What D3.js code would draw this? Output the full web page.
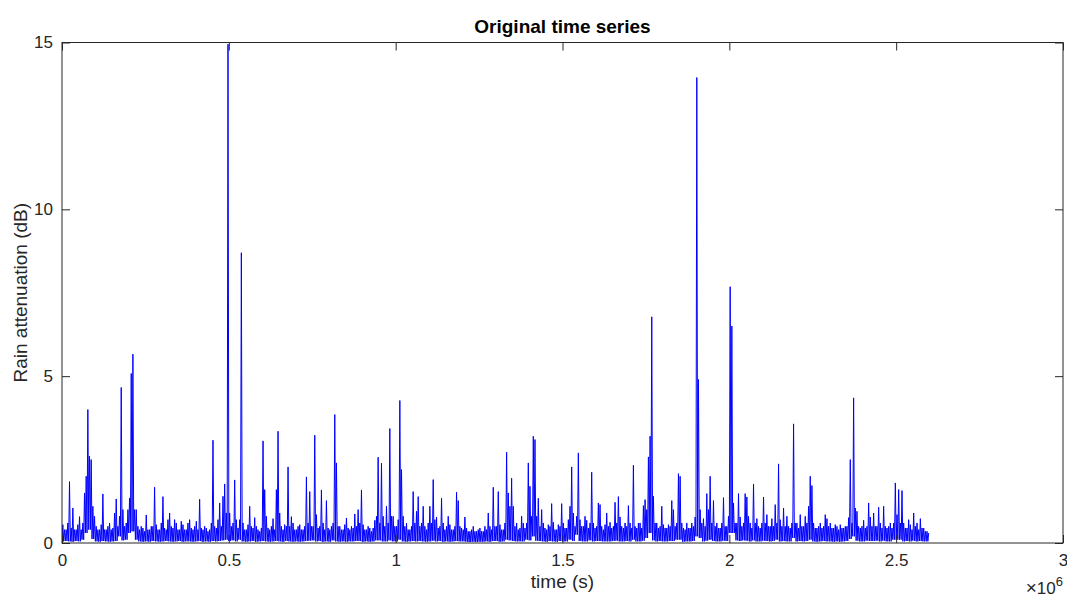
<!DOCTYPE html>
<html>
<head>
<meta charset="utf-8">
<script src="https://cdn.jsdelivr.net/npm/d3@7/dist/d3.min.js"></script>
<style>
  html, body { margin: 0; padding: 0; background: #ffffff; }
  svg { display: block; font-family: "Liberation Sans", Arial, Helvetica, sans-serif; }
</style>
</head>
<body>
<svg id="chart" width="1067" height="598"></svg>
<script>
// Rain attenuation record, summarised in 5 000 s slots for the peaks
// and 10 000 s slots for the floor of the signal.
const peakSlotSeconds = 5000;
const floorSlotSeconds = 10000;

// Highest attenuation reached in each 5 000 s slot (dB)
const slotPeak = [
  0.55, 0.4, 0.4, 0.6, 1.84, 0.45, 1.05, 0.4, 0.4, 0.55, 0.79, 0.4, 0.6, 1.5, 2.0, 4.0, 2.6, 2.5, 1.1, 0.8,
  0.5, 0.4, 0.4, 0.55, 1.47, 0.4, 0.4, 0.5, 0.6, 0.4, 0.45, 0.9, 1.32, 0.5, 0.8, 4.66, 1.0, 0.5, 0.6, 1.0,
  1.35, 5.08, 5.66, 1.0, 1.0, 0.5, 0.4, 0.5, 0.45, 0.35, 0.84, 0.4, 0.4, 0.5, 0.5, 1.67, 0.55, 0.4, 0.4, 0.6,
  1.39, 0.45, 0.4, 0.7, 0.9, 0.5, 0.45, 0.7, 0.6, 0.4, 0.4, 0.65, 0.55, 0.4, 0.4, 0.6, 0.7, 0.45, 0.4, 0.5,
  0.65, 0.4, 1.31, 0.45, 0.4, 0.5, 0.45, 0.35, 0.4, 0.6, 3.08, 0.5, 0.45, 0.7, 1.2, 0.5, 1.4, 1.77, 0.9, 14.95,
  0.9, 0.5, 0.6, 1.89, 0.7, 0.45, 0.7, 8.7, 0.6, 0.4, 0.4, 0.55, 1.1, 0.5, 0.45, 0.76, 0.5, 0.4, 0.35, 0.45,
  3.06, 1.6, 0.8, 0.45, 0.4, 0.5, 0.73, 0.4, 1.6, 3.35, 0.9, 0.5, 0.4, 0.55, 0.5, 2.28, 0.5, 0.79, 0.6, 0.4,
  0.4, 0.5, 0.55, 0.4, 0.4, 0.5, 1.98, 0.6, 1.54, 0.5, 0.5, 3.23, 0.85, 0.45, 0.5, 1.59, 0.6, 0.4, 1.27, 0.45,
  0.4, 0.5, 0.6, 3.85, 2.4, 0.5, 0.5, 0.4, 0.4, 0.55, 0.75, 0.45, 0.4, 0.5, 0.45, 0.87, 0.5, 1.0, 0.6, 1.59,
  0.55, 0.4, 0.4, 0.5, 0.45, 0.35, 0.45, 0.68, 0.8, 2.57, 0.6, 2.39, 0.8, 0.5, 1.1, 0.6, 3.43, 0.8, 0.8, 0.5,
  0.5, 0.7, 4.27, 2.2, 0.8, 0.5, 0.6, 0.4, 0.4, 0.5, 1.54, 0.6, 0.95, 1.39, 0.5, 0.6, 1.1, 0.5, 0.4, 0.6,
  1.1, 0.6, 1.9, 0.7, 0.78, 0.45, 0.5, 1.34, 0.6, 0.4, 0.5, 0.8, 0.55, 0.4, 0.4, 0.5, 1.52, 1.27, 0.5, 0.45,
  0.4, 0.78, 0.45, 0.35, 0.35, 0.4, 0.5, 0.35, 0.35, 0.4, 0.45, 0.35, 0.35, 0.5, 0.4, 0.9, 0.5, 0.4, 1.67, 0.5,
  0.5, 1.54, 0.55, 0.4, 0.4, 0.6, 2.72, 1.5, 1.1, 1.94, 1.1, 0.5, 0.6, 0.4, 0.45, 0.8, 0.6, 0.45, 0.6, 2.4,
  1.7, 0.8, 3.2, 3.1, 0.8, 1.34, 0.5, 1.0, 0.6, 0.45, 0.4, 0.55, 0.5, 1.18, 0.62, 0.4, 0.4, 0.55, 0.5, 1.18,
  0.6, 0.45, 0.45, 0.7, 1.1, 2.28, 0.9, 0.5, 0.8, 2.7, 0.7, 0.5, 0.5, 0.8, 0.68, 0.45, 0.6, 2.12, 0.6, 0.45,
  0.5, 1.2, 1.15, 0.5, 0.4, 0.55, 0.9, 0.5, 0.62, 0.45, 0.5, 1.22, 0.6, 1.39, 0.78, 0.5, 0.45, 0.6, 0.5, 1.12,
  0.6, 0.45, 2.33, 0.5, 0.45, 0.6, 0.6, 0.45, 1.12, 1.3, 1.0, 2.58, 3.2, 6.78, 1.4, 0.6, 0.6, 0.45, 0.5, 1.1,
  0.55, 0.45, 0.45, 0.55, 0.5, 1.27, 1.0, 0.5, 0.6, 2.08, 2.0, 0.6, 0.45, 0.4, 0.6, 0.45, 0.45, 0.6, 0.5, 0.78,
  13.95, 4.9, 1.0, 0.6, 0.73, 0.5, 1.48, 1.0, 2.0, 0.6, 1.27, 0.5, 0.6, 0.45, 0.45, 0.6, 1.36, 0.5, 0.5, 0.8,
  7.68, 6.5, 1.2, 0.6, 0.6, 1.48, 0.78, 0.5, 0.6, 1.48, 1.38, 0.8, 0.6, 0.45, 1.77, 0.6, 0.73, 0.5, 0.45, 0.6,
  1.38, 0.6, 0.85, 0.5, 0.5, 0.73, 0.5, 1.15, 0.6, 2.37, 0.7, 0.5, 1.05, 0.5, 0.8, 0.5, 0.45, 0.6, 3.57, 0.6,
  0.6, 0.45, 0.85, 0.5, 0.5, 0.8, 0.6, 1.1, 2.0, 1.72, 0.6, 0.45, 0.45, 0.5, 0.6, 0.45, 0.5, 0.85, 0.73, 0.5,
  0.6, 0.45, 0.45, 0.55, 0.5, 0.4, 0.55, 0.45, 0.45, 0.5, 0.5, 0.76, 2.5, 0.6, 4.35, 1.05, 0.95, 0.5, 0.45, 0.5,
  0.68, 0.45, 0.5, 1.2, 0.78, 0.5, 0.9, 0.5, 0.5, 1.07, 0.6, 0.45, 1.1, 0.5, 0.45, 0.5, 0.6, 0.45, 0.6, 1.8,
  0.85, 1.6, 0.6, 1.57, 0.6, 0.45, 0.45, 0.7, 0.55, 0.4, 0.9, 0.5, 0.6, 0.4, 0.73, 0.45, 0.45, 0.35, 0.35, 0.3
];

// Lowest attenuation reached in each 10 000 s slot (dB)
const slotFloor = [
  0.05, 0.06, 0.05, 0.04, 0.06, 0.05, 0.1, 0.3, 0.4, 0.12,
  0.05, 0.04, 0.06, 0.05, 0.04, 0.05, 0.06, 0.2, 0.08, 0.1,
  0.3, 0.35, 0.1, 0.05, 0.04, 0.05, 0.04, 0.06, 0.05, 0.04,
  0.05, 0.06, 0.05, 0.04, 0.05, 0.06, 0.04, 0.05, 0.05, 0.04,
  0.05, 0.06, 0.04, 0.05, 0.04, 0.06, 0.05, 0.06, 0.08, 0.1,
  0.06, 0.08, 0.05, 0.1, 0.05, 0.04, 0.05, 0.06, 0.04, 0.05,
  0.06, 0.05, 0.04, 0.05, 0.06, 0.05, 0.04, 0.06, 0.05, 0.04,
  0.05, 0.04, 0.05, 0.06, 0.07, 0.08, 0.05, 0.06, 0.04, 0.05,
  0.04, 0.08, 0.05, 0.04, 0.05, 0.04, 0.05, 0.05, 0.06, 0.06,
  0.04, 0.05, 0.04, 0.05, 0.08, 0.08, 0.05, 0.05, 0.08, 0.05,
  0.05, 0.1, 0.05, 0.04, 0.05, 0.06, 0.05, 0.06, 0.05, 0.04,
  0.05, 0.07, 0.05, 0.06, 0.04, 0.05, 0.04, 0.05, 0.06, 0.05,
  0.05, 0.04, 0.03, 0.04, 0.03, 0.04, 0.04, 0.05, 0.04, 0.06,
  0.06, 0.04, 0.05, 0.1, 0.08, 0.06, 0.05, 0.05, 0.05, 0.1,
  0.08, 0.2, 0.07, 0.06, 0.05, 0.04, 0.06, 0.05, 0.04, 0.06,
  0.05, 0.05, 0.1, 0.06, 0.25, 0.06, 0.05, 0.05, 0.08, 0.05,
  0.06, 0.06, 0.05, 0.05, 0.05, 0.06, 0.07, 0.05, 0.05, 0.06,
  0.05, 0.1, 0.05, 0.05, 0.07, 0.15, 0.3, 0.08, 0.05, 0.06,
  0.05, 0.05, 0.06, 0.06, 0.1, 0.1, 0.04, 0.05, 0.05, 0.06,
  0.2, 0.15, 0.05, 0.07, 0.1, 0.06, 0.05, 0.05, 0.07, 0.06,
  0.3, 0.3, 0.08, 0.06, 0.08, 0.07, 0.05, 0.08, 0.05, 0.05,
  0.07, 0.06, 0.05, 0.06, 0.1, 0.05, 0.06, 0.05, 0.05, 0.15,
  0.05, 0.06, 0.05, 0.06, 0.1, 0.05, 0.04, 0.05, 0.06, 0.05,
  0.05, 0.04, 0.05, 0.04, 0.05, 0.06, 0.12, 0.2, 0.07, 0.05,
  0.05, 0.07, 0.06, 0.06, 0.07, 0.05, 0.07, 0.05, 0.05, 0.1,
  0.1, 0.1, 0.05, 0.06, 0.05, 0.07, 0.05, 0.06, 0.05, 0.05
];

// Axis ticks
const xTickValues = [0, 500000, 1000000, 1500000, 2000000, 2500000, 3000000];
const xTickLabels = ["0", "0.5", "1", "1.5", "2", "2.5", "3"];
const yTickValues = [0, 5, 10, 15];
const yTickLabels = ["0", "5", "10", "15"];

const svg = d3.select("#chart");
const box = { left: 62, right: 1063, top: 42.5, bottom: 543 };
const ink = "#262626";
const fontStack = '"Liberation Sans", Arial, Helvetica, sans-serif';

const x = d3.scaleLinear().domain([0, 3000000]).range([box.left, box.right]);
const y = d3.scaleLinear().domain([0, 15]).range([box.bottom, box.top]);

// Each slot traced as the floor of its window, then its peak
const trace = [];
slotPeak.forEach((hi, j) => {
  const t0 = j * peakSlotSeconds;
  const lo = slotFloor[Math.floor(t0 / floorSlotSeconds)];
  trace.push([t0, lo]);
  trace.push([t0 + peakSlotSeconds / 2, hi]);
});

const line = d3.line().x(d => x(d[0])).y(d => y(d[1]));

svg.append("defs").append("clipPath").attr("id", "plotClip")
  .append("rect")
  .attr("x", box.left).attr("y", box.top)
  .attr("width", box.right - box.left).attr("height", box.bottom - box.top);

svg.append("path")
  .datum(trace)
  .attr("clip-path", "url(#plotClip)")
  .attr("fill", "none")
  .attr("stroke", "#0000ff")
  .attr("stroke-width", 1)
  .attr("stroke-linejoin", "miter")
  .attr("d", line);

// Axes: ticks point inward and are mirrored on the opposite sides
const tickLen = 8;
const fmtX = (d, i) => xTickLabels[i];
const fmtY = (d, i) => yTickLabels[i];

function styleAxis(g) {
  g.select(".domain").remove();
  g.selectAll(".tick line").attr("stroke", ink).attr("stroke-width", 1);
  g.selectAll(".tick text").attr("fill", ink)
    .style("font-size", "17px")
    .style("font-family", fontStack);
}

svg.append("g")
  .attr("transform", `translate(0,${box.bottom})`)
  .call(d3.axisBottom(x).tickValues(xTickValues).tickFormat(fmtX)
    .tickSizeInner(-tickLen).tickSizeOuter(0).tickPadding(11))
  .call(styleAxis);

svg.append("g")
  .attr("transform", `translate(0,${box.top})`)
  .call(d3.axisTop(x).tickValues(xTickValues).tickFormat("")
    .tickSizeInner(-tickLen).tickSizeOuter(0))
  .call(styleAxis);

svg.append("g")
  .attr("transform", `translate(${box.left},0)`)
  .call(d3.axisLeft(y).tickValues(yTickValues).tickFormat(fmtY)
    .tickSizeInner(-tickLen).tickSizeOuter(0).tickPadding(9))
  .call(styleAxis);

svg.append("g")
  .attr("transform", `translate(${box.right},0)`)
  .call(d3.axisRight(y).tickValues(yTickValues).tickFormat("")
    .tickSizeInner(-tickLen).tickSizeOuter(0))
  .call(styleAxis);

// Box around the plot area
svg.append("rect")
  .attr("x", box.left).attr("y", box.top)
  .attr("width", box.right - box.left).attr("height", box.bottom - box.top)
  .attr("fill", "none").attr("stroke", ink).attr("stroke-width", 1);

// Exponent of the x axis
const expo = svg.append("text")
  .attr("x", box.right).attr("y", 594)
  .attr("text-anchor", "end")
  .attr("fill", ink)
  .style("font-size", "17px")
  .style("font-family", fontStack);
expo.append("tspan").style("font-size", "19px").text("\u00d7");
expo.append("tspan").text("10");
expo.append("tspan").attr("dy", -8).style("font-size", "13px").text("6");

// Title and axis labels
svg.append("text")
  .attr("x", (box.left + box.right) / 2).attr("y", 32.5)
  .attr("text-anchor", "middle")
  .attr("fill", "#000000")
  .style("font-size", "19px").style("font-weight", "bold")
  .text("Original time series");

svg.append("text")
  .attr("x", (box.left + box.right) / 2).attr("y", 588)
  .attr("text-anchor", "middle")
  .attr("fill", ink)
  .style("font-size", "19px")
  .text("time (s)");

svg.append("text")
  .attr("transform", `translate(27,${(box.top + box.bottom) / 2}) rotate(-90)`)
  .attr("text-anchor", "middle")
  .attr("fill", ink)
  .style("font-size", "19px")
  .text("Rain attenuation (dB)");
</script>
</body>
</html>
